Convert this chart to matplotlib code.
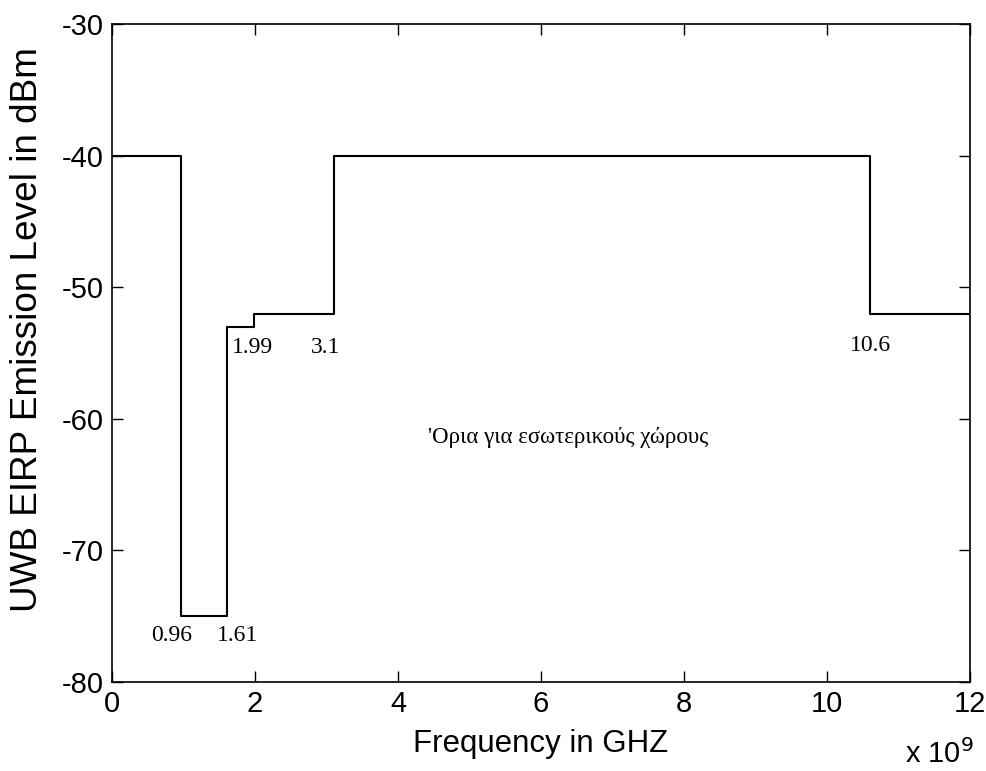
import matplotlib
matplotlib.use("Agg")
import matplotlib.pyplot as plt
from matplotlib.ticker import FuncFormatter, MultipleLocator

plt.rcParams["axes.unicode_minus"] = False

# data (frequency in Hz, level in dBm)
freq_hz = [0, 0.96e9, 1.61e9, 1.99e9, 3.1e9, 10.6e9, 12e9]
level_dbm = [-40, -75, -53, -52, -40, -52, -52]

# annotation labels
ann_text = ["0.96", "1.61", "1.99", "3.1", "10.6"]
ann_x = [0.84e9, 1.75e9, 1.96e9, 2.99e9, 10.6e9]
ann_y = [-76.5, -76.5, -54.6, -54.6, -54.4]
region_text = "'Ορια για εσωτερικούς χώρους"

fig = plt.figure(figsize=(9.87, 7.71), dpi=100)
ax = fig.add_axes([0.1135, 0.1154, 0.983 - 0.1135, 0.9689 - 0.1154])

ax.plot(freq_hz, level_dbm, drawstyle="steps-post", color="black", linewidth=1.5)

ax.set_xlim(0, 12e9)
ax.set_ylim(-80, -30)
ax.xaxis.set_major_locator(MultipleLocator(2e9))
ax.yaxis.set_major_locator(MultipleLocator(10))
ax.xaxis.set_major_formatter(FuncFormatter(lambda v, p: f"{v/1e9:g}"))
ax.yaxis.set_major_formatter(FuncFormatter(lambda v, p: f"{v:g}"))
ax.tick_params(direction="in", length=8, width=1, top=True, right=True,
               labelsize=21, pad=6)
for lab in ax.get_xticklabels() + ax.get_yticklabels():
    lab.set_family("Liberation Sans")
for s in ax.spines.values():
    s.set_linewidth(1.2)

ax.set_xlabel("Frequency in GHZ", fontsize=22.5, family="Liberation Sans")
ax.set_ylabel("UWB EIRP Emission Level in dBm", fontsize=26.6, family="Liberation Sans")
ax.xaxis.set_label_coords(0.5, -0.0714)
ax.yaxis.set_label_coords(-0.078, 0.535)

for t, x, y in zip(ann_text, ann_x, ann_y):
    ax.text(x, y, t, ha="center", va="center", fontsize=17, family="Liberation Serif")

ax.text(4.42e9, -61.4, region_text, ha="left", va="center", fontsize=16.5,
        family="Liberation Serif")

fig.text(0.987, 0.003, r"x 10$^{9}$", ha="right", va="bottom", fontsize=21,
         family="Liberation Sans")

fig.savefig("out.png", dpi=100, facecolor="white")
